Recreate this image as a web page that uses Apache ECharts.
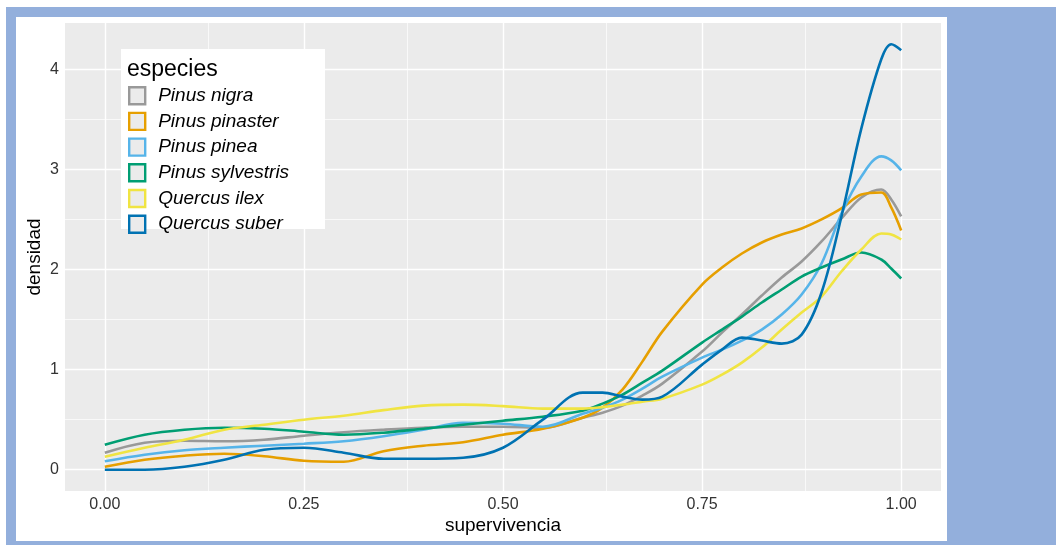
<!DOCTYPE html>
<html>
<head>
<meta charset="utf-8">
<script src="https://cdn.jsdelivr.net/npm/echarts@6/dist/echarts.min.js"></script>
<style>
html,body{margin:0;padding:0;width:1056px;height:545px;overflow:hidden;background:#ffffff;}
#frame{position:absolute;left:6px;top:7px;width:1050px;height:538px;background:#93AFDC;}
#panel{position:absolute;left:16px;top:17px;width:931px;height:524px;background:#ffffff;}
#chart{position:absolute;left:0;top:0;width:1056px;height:545px;}
</style>
</head>
<body>
<div id="frame"></div>
<div id="panel"></div>
<div id="chart"></div>
<script>
// ---- data ----
const xs = [0, 0.05, 0.1, 0.15, 0.2, 0.25, 0.3, 0.35, 0.4, 0.45, 0.5, 0.55, 0.6, 0.625, 0.65, 0.675, 0.7, 0.75, 0.775, 0.8, 0.825, 0.85, 0.875, 0.9, 0.925, 0.95, 0.975, 0.9875, 1.0];
const species = ["Pinus nigra", "Pinus pinaster", "Pinus pinea", "Pinus sylvestris", "Quercus ilex", "Quercus suber"];
const pinusNigra      = [0.17, 0.27, 0.29, 0.285, 0.30, 0.34, 0.375, 0.40, 0.42, 0.43, 0.43, 0.42, 0.52, 0.57, 0.64, 0.74, 0.86, 1.18, 1.37, 1.55, 1.74, 1.92, 2.08, 2.28, 2.51, 2.72, 2.80, 2.70, 2.53];
const pinusPinaster   = [0.03, 0.10, 0.14, 0.16, 0.135, 0.09, 0.08, 0.185, 0.24, 0.275, 0.35, 0.41, 0.52, 0.62, 0.80, 1.08, 1.38, 1.85, 2.02, 2.16, 2.27, 2.35, 2.41, 2.50, 2.61, 2.75, 2.77, 2.62, 2.39];
const pinusPinea      = [0.085, 0.15, 0.195, 0.22, 0.24, 0.26, 0.285, 0.335, 0.40, 0.47, 0.46, 0.43, 0.56, 0.62, 0.70, 0.81, 0.93, 1.12, 1.20, 1.29, 1.40, 1.55, 1.75, 2.06, 2.56, 2.93, 3.13, 3.09, 2.99];
const pinusSylvestris = [0.25, 0.35, 0.40, 0.42, 0.41, 0.38, 0.35, 0.37, 0.41, 0.45, 0.49, 0.53, 0.59, 0.66, 0.75, 0.87, 0.99, 1.27, 1.40, 1.53, 1.67, 1.80, 1.93, 2.02, 2.10, 2.17, 2.10, 2.01, 1.91];
const quercusIlex     = [0.13, 0.22, 0.30, 0.40, 0.45, 0.50, 0.54, 0.595, 0.64, 0.65, 0.635, 0.61, 0.61, 0.625, 0.65, 0.68, 0.71, 0.85, 0.95, 1.07, 1.22, 1.40, 1.57, 1.73, 1.98, 2.20, 2.36, 2.35, 2.30];
const quercusSuber    = [0.0, 0.0, 0.03, 0.10, 0.20, 0.22, 0.17, 0.11, 0.11, 0.12, 0.22, 0.50, 0.77, 0.77, 0.73, 0.70, 0.73, 1.05, 1.20, 1.32, 1.29, 1.26, 1.35, 1.77, 2.53, 3.41, 4.10, 4.25, 4.19];
const xTicks = [0, 0.25, 0.5, 0.75, 1.0];
const xMinor = [0.125, 0.375, 0.625, 0.875];
const yTicks = [0, 1, 2, 3, 4];
const yMinor = [0.5, 1.5, 2.5, 3.5];
const xRange = [-0.05, 1.05];
const yRange = [-0.2125, 4.4625];

const seriesValues = [pinusNigra, pinusPinaster, pinusPinea, pinusSylvestris, quercusIlex, quercusSuber];
const colors = ["#999999", "#E69F00", "#56B4E9", "#009E73", "#F0E442", "#0072B2"];

const chart = echarts.init(document.getElementById('chart'), null, {renderer: 'canvas'});
const FONT = '"Liberation Sans", Arial, sans-serif';

const gridSeries = {
  type: 'line', data: [], z: 1, silent: true, animation: false,
  markLine: {
    z: 1, zlevel: 0,
    silent: true, animation: false, symbol: ['none', 'none'],
    label: {show: false},
    emphasis: {disabled: true},
    data: [
      ...xMinor.map(v => ({xAxis: v, lineStyle: {color: '#ffffff', width: 0.7, type: 'solid'}})),
      ...yMinor.map(v => ({yAxis: v, lineStyle: {color: '#ffffff', width: 0.7, type: 'solid'}})),
      ...xTicks.map(v => ({xAxis: v, lineStyle: {color: '#ffffff', width: 1.4, type: 'solid'}})),
      ...yTicks.map(v => ({yAxis: v, lineStyle: {color: '#ffffff', width: 1.4, type: 'solid'}}))
    ]
  }
};

const lineSeries = species.map((name, i) => ({
  name: name,
  type: 'line',
  data: xs.map((x, j) => [x, seriesValues[i][j]]),
  smooth: 0.35,
  showSymbol: false,
  symbol: 'none',
  z: 3,
  lineStyle: {color: colors[i], width: 2.6},
  itemStyle: {color: colors[i]},
  emphasis: {disabled: true},
  animation: false
}));

chart.setOption({
  animation: false,
  grid: {
    left: 65, top: 23, right: 115, bottom: 54,
    show: true, backgroundColor: '#EBEBEB', borderWidth: 0,
    containLabel: false, outerBoundsMode: 'none'
  },
  xAxis: {
    type: 'value', min: xRange[0], max: xRange[1],
    axisLine: {show: false},
    splitLine: {show: false},
    axisTick: {show: true, customValues: xTicks, length: 3, lineStyle: {color: '#333333', width: 1}},
    axisLabel: {customValues: xTicks, formatter: v => v.toFixed(2), color: '#333333', fontSize: 16, fontFamily: FONT, margin: 6},
    name: 'supervivencia', nameLocation: 'middle', nameGap: 25, nameMoveOverlap: false,
    nameTextStyle: {color: '#000000', fontSize: 19, fontFamily: FONT, verticalAlign: 'top'}
  },
  yAxis: {
    type: 'value', min: yRange[0], max: yRange[1],
    axisLine: {show: false},
    splitLine: {show: false},
    axisTick: {show: true, customValues: yTicks, length: 3, lineStyle: {color: '#333333', width: 1}},
    axisLabel: {customValues: yTicks, formatter: v => String(v), color: '#333333', fontSize: 16, fontFamily: FONT, margin: 6},
    name: 'densidad', nameLocation: 'middle', nameGap: 21, nameRotate: 90, nameMoveOverlap: false,
    nameTextStyle: {color: '#000000', fontSize: 19, fontFamily: FONT, verticalAlign: 'bottom'}
  },
  legend: {
    orient: 'vertical', left: 128, top: 86, padding: 0,
    itemWidth: 16, itemHeight: 17, itemGap: 6.3,
    icon: 'rect', selectedMode: false, z: 6,
    textStyle: {fontSize: 19, fontStyle: 'italic', fontFamily: FONT, color: '#000000', lineHeight: 17, padding: [0, 0, 0, 8]},
    data: species.map((n, i) => ({name: n, itemStyle: {color: '#EBEBEB', borderColor: colors[i], borderWidth: 2.4}}))
  },
  graphic: [
    {type: 'rect', z: 5, silent: true, shape: {x: 121, y: 49, width: 204, height: 180}, style: {fill: '#ffffff'}},
    {type: 'text', z: 7, silent: true, x: 127, y: 70, style: {text: 'especies', fill: '#000000', font: '23px "Liberation Sans", Arial, sans-serif', textVerticalAlign: 'middle'}}
  ],
  series: [gridSeries, ...lineSeries]
});
</script>
</body>
</html>
